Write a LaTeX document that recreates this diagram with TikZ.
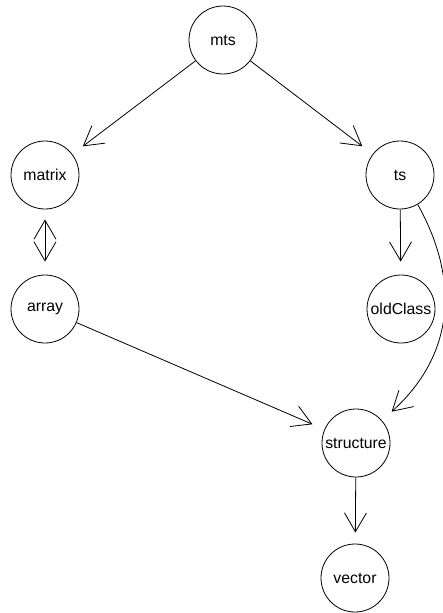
\documentclass[tikz,border=0pt]{standalone}
\usepackage{fontspec}
\setmainfont{Liberation Sans}
\usetikzlibrary{arrows.meta}
\begin{document}
\begin{tikzpicture}[x=1pt,y=-1pt,
  vnode/.style={circle,draw,line width=0.8pt,minimum size=68pt,inner sep=0pt,
    font=\fontsize{15.8}{18}\selectfont},
  barb/.tip={Straight Barb[length=19pt,width=22pt,line width=0.8pt]},
  edge/.style={line width=0.8pt,-barb,shorten >=13pt}]
\useasboundingbox (0,0) rectangle (443,613);
\node[vnode] (mts) at (223,40) {mts};
\node[vnode] (matrix) at (45,175) {matrix};
\node[vnode] (ts) at (400,175) {ts};
\node[vnode] (array) at (45,309) {array};
\node[vnode] (oldClass) at (401,309) {oldClass};
\node[vnode] (structure) at (356,443) {structure};
\node[vnode] (vector) at (355,578) {vector};
\draw[edge] (mts) -- (matrix);
\draw[edge] (mts) -- (ts);
\draw[edge,barb-barb,shorten <=10pt] (matrix) -- (array);
\draw[edge] (ts) -- (oldClass);
\draw[edge] (array) -- (structure);
\draw[edge] (ts.-59) .. controls +(42,75) and +(73,-66) .. (structure.41);
\draw[edge,shorten >=11pt] (structure) -- (vector);
\end{tikzpicture}
\end{document}
